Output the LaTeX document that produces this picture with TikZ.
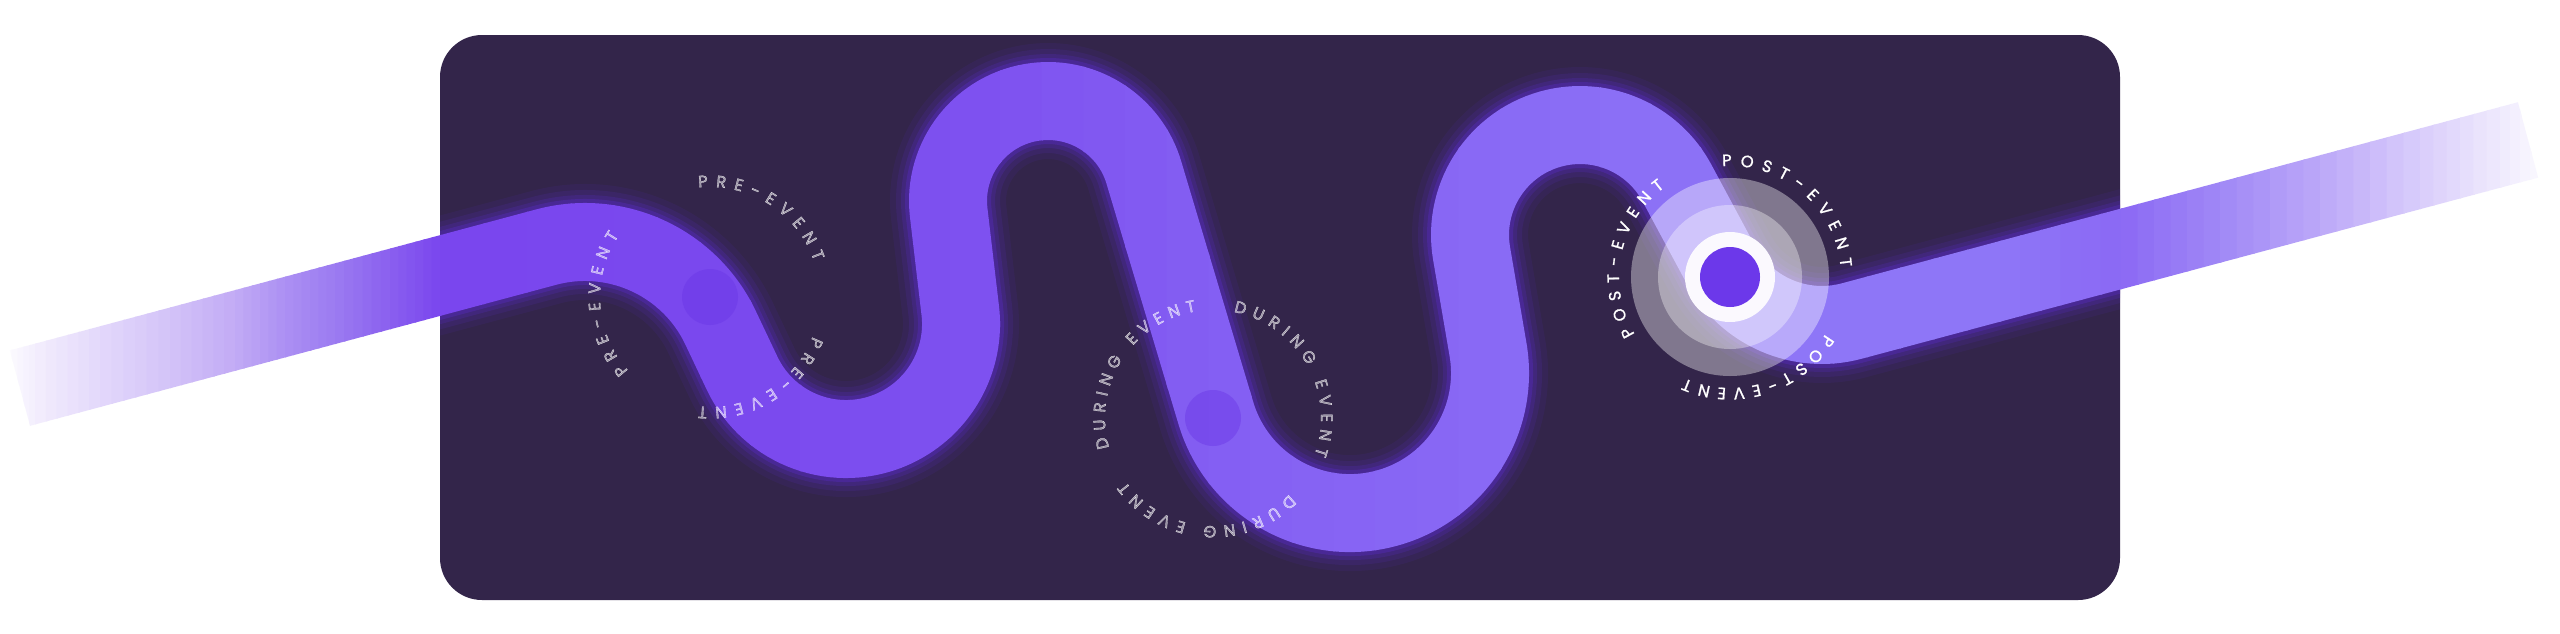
\documentclass[tikz,border=0pt]{standalone}
\usepackage{fontspec}
\usepackage{xcolor}
\usepackage{tikz}
\usetikzlibrary{decorations.text}
\newfontfamily\lblfont{Poppins}[RawFeature={embolden=1.2}]
\newcommand{\lbl}{\lblfont\fontsize{16.5}{16.5}\selectfont}
\definecolor{boxbg}{HTML}{33254A}
\definecolor{glowc}{HTML}{5A2CC8}
\definecolor{dotc}{HTML}{6A36E6}
\definecolor{pinc}{HTML}{6C38EA}
\definecolor{rc0}{HTML}{FFFFFF}
\definecolor{rc1}{HTML}{F3EEFD}
\definecolor{rc2}{HTML}{E3D8FB}
\definecolor{rc3}{HTML}{D3C3F8}
\definecolor{rc4}{HTML}{C2ABF5}
\definecolor{rc5}{HTML}{AC90F3}
\definecolor{rc6}{HTML}{9B7BF1}
\definecolor{rc7}{HTML}{8A5FEF}
\definecolor{rc8}{HTML}{7A46EE}
\definecolor{rc9}{HTML}{7A48EE}
\definecolor{rc10}{HTML}{7E52F0}
\definecolor{rc11}{HTML}{8560F3}
\definecolor{rc12}{HTML}{896AF5}
\definecolor{rc13}{HTML}{8E76F7}
\definecolor{rc14}{HTML}{8E76F7}
\definecolor{rc15}{HTML}{8B69F4}
\definecolor{rc16}{HTML}{A088F6}
\definecolor{rc17}{HTML}{BCA8F8}
\definecolor{rc18}{HTML}{D9CDFB}
\definecolor{rc19}{HTML}{EFEAFD}
\definecolor{rc20}{HTML}{FFFFFF}
\newcommand{\roadline}{(20,388.1) -- (546.2,247.1)
    arc[start angle=-105, end angle=-25.32, radius=150] -- (742.1,373.2)
    arc[start angle=154.68, end angle=-6.71, radius=115] -- (948.7,212.7)
    arc[start angle=173.29, end angle=343.33, radius=100] -- (1215.9,413.2)
    arc[start angle=163.33, end angle=-9.72, radius=140] -- (1471.6,253.6)
    arc[start angle=170.28, end angle=331.74, radius=110] -- (1720.7,264.4)
    arc[start angle=151.74, end angle=75, radius=115] -- (2528,139.9)}

\begin{document}
\begin{tikzpicture}[
    x=1pt, y=-1pt,
    road/.style={line width=78pt},
    glowline/.style={draw=glowc},
    dot/.style={circle, inner sep=0pt, minimum size=56pt, fill=dotc, fill opacity=0.45},
    halo/.style={circle, inner sep=0pt, fill=white},
    arclabel/.style={decorate, decoration={text along path, text={|\lbl|#1},
        text align={fit to path}, text color=white}}
]
    \useasboundingbox (0,0) rectangle (2560,633);
    \fill[white] (0,0) rectangle (2560,633);
    \fill[boxbg, rounded corners=42pt] (440,35) rectangle (2120,600);
    \begin{scope}
        \clip[rounded corners=42pt] (440,35) rectangle (2120,600);
        \foreach \w/\o in {116/0.1, 104/0.15, 94/0.22, 86/0.35}
            \draw[glowline, line width=\w pt, opacity=\o] \roadline;
    \end{scope}
    \foreach \xa/\xb/\ca/\cb in {0/35/rc0/rc1, 35/100/rc1/rc2, 100/170/rc2/rc3,
        170/235/rc3/rc4, 235/285/rc4/rc5, 285/335/rc5/rc6, 335/390/rc6/rc7,
        390/440/rc7/rc8, 440/700/rc8/rc9, 700/1000/rc9/rc10, 1000/1250/rc10/rc11,
        1250/1500/rc11/rc12, 1500/1800/rc12/rc13, 1800/2000/rc13/rc14,
        2000/2121/rc14/rc15, 2121/2220/rc15/rc16, 2220/2320/rc16/rc17,
        2320/2420/rc17/rc18, 2420/2500/rc18/rc19, 2500/2560/rc19/rc20}{
        \foreach \k in {0,...,5}{
            \pgfmathsetmacro\xl{\xa+(\xb-\xa)*\k/6}
            \pgfmathsetmacro\xr{\xa+(\xb-\xa)*(\k+1)/6+1.5}
            \pgfmathtruncatemacro\mix{100*(\k+0.5)/6}
            \begin{scope}
                \clip (\xl,0) rectangle (\xr,633);
                \draw[road, draw=\cb!\mix!\ca] \roadline;
            \end{scope}
        }
    }
    \node[dot] (pre) at (710,297) {};
    \node[dot] (during) at (1213,418) {};
    \begin{scope}[fill opacity=0.5]
        \foreach \a/\b in {-96/-19, 21/96, 138/214}
            \path[arclabel=PRE-EVENT] ([shift={(\a:110)}]pre.center)
                arc[start angle=\a, end angle=\b, radius=110];
        \foreach \a/\b in {-79/20, 45/144, 164/261}
            \path[arclabel={DURING EVENT}] ([shift={(\a:108)}]during.center)
                arc[start angle=\a, end angle=\b, radius=108];
    \end{scope}
    \node[halo, minimum size=198pt, fill opacity=0.38] (post-outer) at (1730,277) {};
    \node[halo, minimum size=144pt, fill opacity=0.35] (post-inner) at (post-outer) {};
    \node[halo, minimum size=90pt, fill=white!97!pinc] (post-ring) at (post-outer) {};
    \node[halo, minimum size=60pt, fill=pinc] (post) at (post-outer) {};
    \foreach \a/\b in {-94/-5, 31/114, 149/234}
        \path[arclabel=POST-EVENT] ([shift={(\a:111)}]post.center)
            arc[start angle=\a, end angle=\b, radius=111];
\end{tikzpicture}
\end{document}
